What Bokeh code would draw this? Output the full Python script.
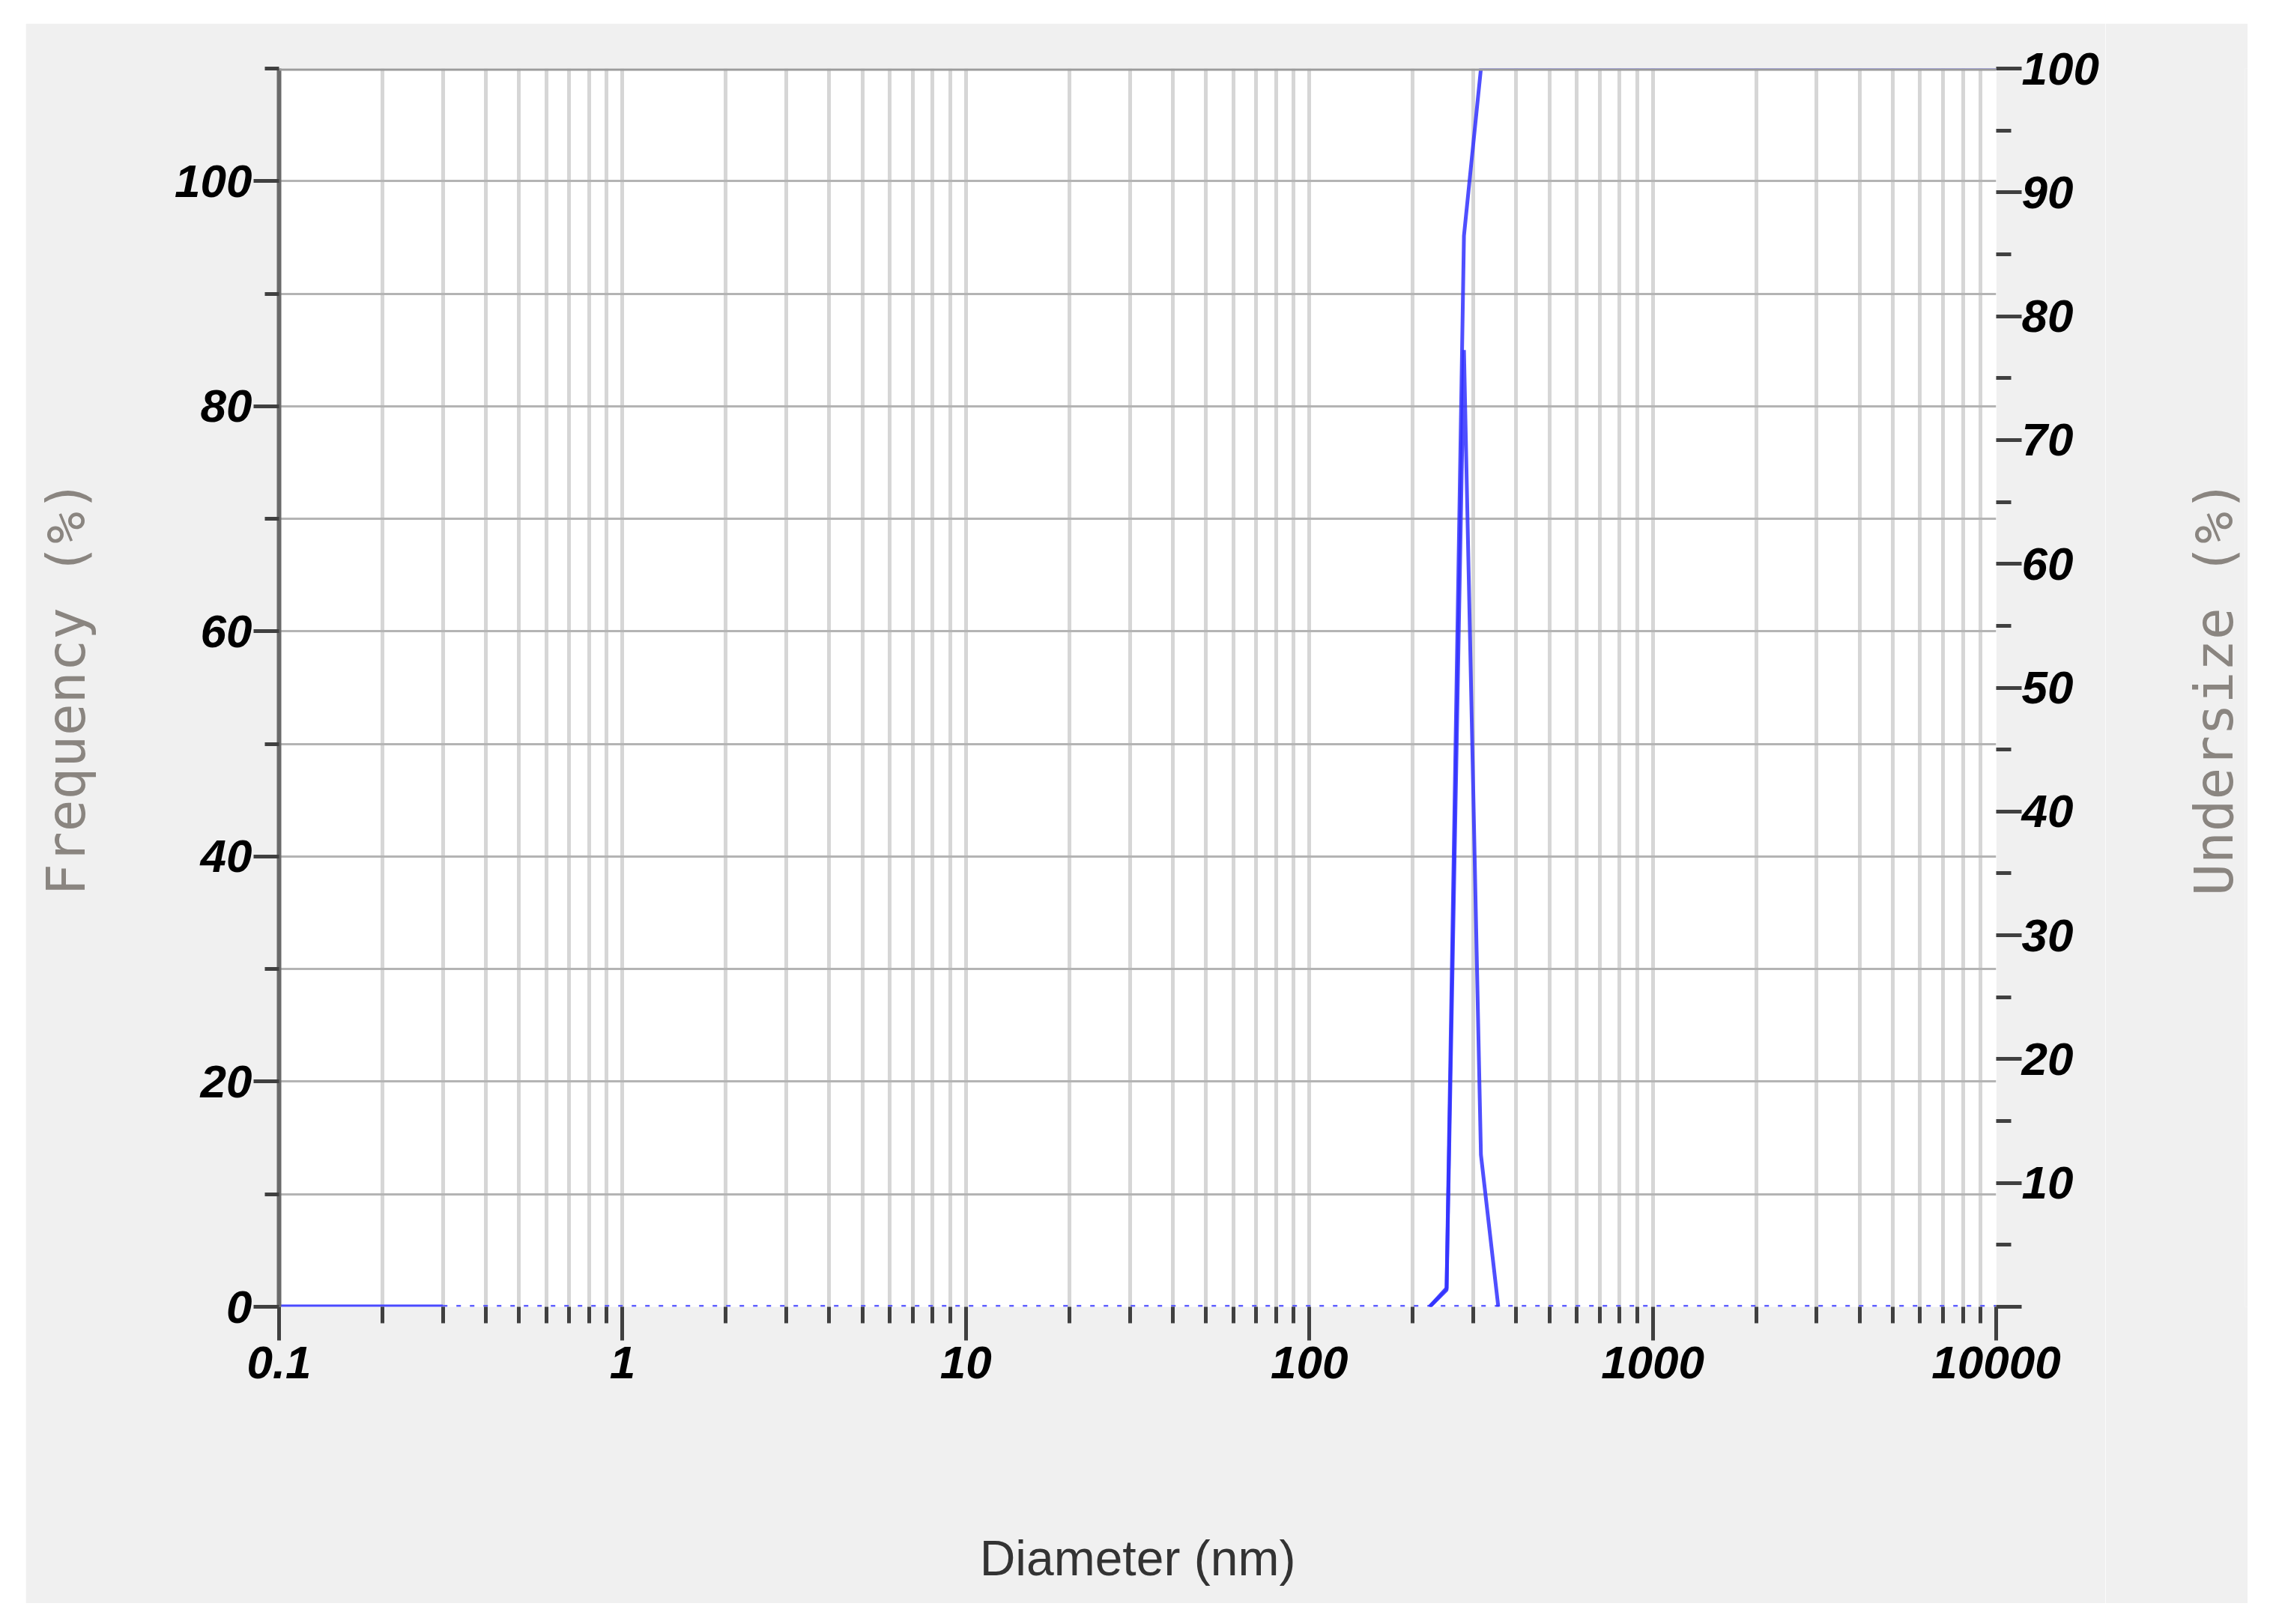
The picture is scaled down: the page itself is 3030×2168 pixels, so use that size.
from bokeh.plotting import figure
from bokeh.layouts import row
from bokeh.models import Range1d, LinearAxis, FixedTicker, Span
from bokeh.embed import file_html
from bokeh.resources import INLINE

# ---- data ----
freq_diameter = [224, 251, 282, 316, 355]
frequency = [0.0, 1.5, 85.0, 13.5, 0.0]

under_diameter = [224, 251, 282, 316, 10000]
undersize = [0.0, 1.5, 86.5, 100.0, 100.0]

base_solid_diameter = [0.1, 0.3]
base_solid_value = [0.0, 0.0]
base_dotted_diameter = [0.3, 10000]
base_dotted_value = [0.0, 0.0]

x_ticks = [0.1, 1, 10, 100, 1000, 10000]
x_tick_labels = ["0.1", "1", "10", "100", "1000", "10000"]
x_minor = [m * d for d in [0.1, 1, 10, 100, 1000] for m in range(2, 10)]
left_ticks = [0, 20, 40, 60, 80, 100]
left_minor = [10, 30, 50, 70, 90, 110]
right_ticks = [0, 10, 20, 30, 40, 50, 60, 70, 80, 90, 100]
right_minor = [5, 15, 25, 35, 45, 55, 65, 75, 85, 95]

NUM_FONT = "Liberation Sans"
NUM_SIZE = "62px"
PANEL = "#f0f0f0"
TITLE_GRAY = "#8a8580"

p = figure(width=2776, height=2109, x_axis_type="log",
           x_range=Range1d(0.1, 10000), y_range=Range1d(0, 110),
           output_backend="svg", toolbar_location=None,
           min_border_left=338, min_border_right=146,
           min_border_top=60, min_border_bottom=396,
           background_fill_color="white", border_fill_color=PANEL,
           outline_line_color=None, margin=(31, 0, 0, 34))
p.extra_y_ranges = {"under": Range1d(0, 100)}

# x axis
xa = p.xaxis[0]
xa.ticker = FixedTicker(ticks=x_ticks, minor_ticks=x_minor)
xa.major_label_overrides = {t: l for t, l in zip(x_ticks, x_tick_labels)}
xa.axis_line_color = None
xa.major_tick_out = 45
xa.major_tick_in = 0
xa.minor_tick_out = 22
xa.minor_tick_in = 0
xa.major_tick_line_color = "#404040"
xa.minor_tick_line_color = "#404040"
xa.major_tick_line_width = 5
xa.minor_tick_line_width = 5
xa.major_label_standoff = 8
xa.axis_label = "Diameter (nm)"
xa.axis_label_text_font = "Liberation Sans"
xa.axis_label_text_font_size = "66px"
xa.axis_label_text_font_style = "normal"
xa.axis_label_text_color = "#333333"
xa.axis_label_standoff = 200

# left axis
ya = p.yaxis[0]
ya.ticker = FixedTicker(ticks=left_ticks, minor_ticks=left_minor)
ya.axis_line_color = "#6a6a6a"
ya.axis_line_width = 6
ya.major_tick_out = 34
ya.major_tick_in = 0
ya.minor_tick_out = 19
ya.minor_tick_in = 0
ya.major_tick_line_color = "#404040"
ya.minor_tick_line_color = "#404040"
ya.major_tick_line_width = 5
ya.minor_tick_line_width = 5
ya.major_label_standoff = 2
ya.axis_label = "Frequency (%)"
ya.axis_label_standoff = 100
ya.axis_label_text_font = "DejaVu Sans Mono"
ya.axis_label_text_font_size = "71px"
ya.axis_label_text_font_style = "normal"
ya.axis_label_text_color = TITLE_GRAY

# right axis (undersize)
ra = LinearAxis(y_range_name="under",
                ticker=FixedTicker(ticks=right_ticks, minor_ticks=right_minor))
ra.major_label_overrides = {0: ""}
ra.axis_line_color = None
ra.major_tick_out = 34
ra.major_tick_in = 0
ra.minor_tick_out = 20
ra.minor_tick_in = 0
ra.major_tick_line_color = "#404040"
ra.minor_tick_line_color = "#404040"
ra.major_tick_line_width = 5
ra.minor_tick_line_width = 5
ra.major_label_standoff = 0
p.add_layout(ra, "right")

for ax in (xa, ya, ra):
    ax.major_label_text_font = NUM_FONT
    ax.major_label_text_font_size = NUM_SIZE
    ax.major_label_text_font_style = "bold italic"
    ax.major_label_text_color = "black"

# grids
p.xgrid.grid_line_color = "#d6d6d6"
p.xgrid.grid_line_width = 5
p.xgrid.minor_grid_line_color = "#d6d6d6"
p.xgrid.minor_grid_line_width = 5
p.ygrid.grid_line_color = "#b4b4b4"
p.ygrid.grid_line_width = 3
p.ygrid.minor_grid_line_color = "#b4b4b4"
p.ygrid.minor_grid_line_width = 3

# top border
p.add_layout(Span(location=110, dimension="width", line_color="#9c9c9c", line_width=6))

# data lines
p.line(base_dotted_diameter, base_dotted_value, line_color="#6060ff",
       line_width=5, line_dash="6 12")
p.line(base_solid_diameter, base_solid_value, line_color="#4a4aff", line_width=6)
p.line(under_diameter, undersize, y_range_name="under",
       line_color="#3030ff", line_width=5, line_alpha=0.85)
p.line(freq_diameter, frequency, line_color="#3030ff", line_width=5, line_alpha=0.85)

# narrow companion panel carrying the right-hand title (reads bottom to top)
p2 = figure(width=190, height=2109, output_backend="svg", toolbar_location=None,
            x_range=Range1d(0, 1), y_range=Range1d(0, 100),
            min_border_left=186, min_border_right=0,
            min_border_top=60, min_border_bottom=396,
            background_fill_color=PANEL, border_fill_color=PANEL,
            outline_line_color=None, margin=(31, 0, 0, 0))
p2.xaxis.visible = False
p2.grid.visible = False
ua = p2.yaxis[0]
ua.ticker = FixedTicker(ticks=[])
ua.axis_line_color = None
ua.major_tick_line_color = None
ua.minor_tick_line_color = None
ua.major_label_text_font_size = "0px"
ua.axis_label = "Undersize (%)"
ua.axis_label_standoff = 0
ua.axis_label_text_font = "DejaVu Sans Mono"
ua.axis_label_text_font_size = "71px"
ua.axis_label_text_font_style = "normal"
ua.axis_label_text_color = TITLE_GRAY

layout = row(p, p2)
open("out.html", "w").write(file_html(layout, INLINE))
